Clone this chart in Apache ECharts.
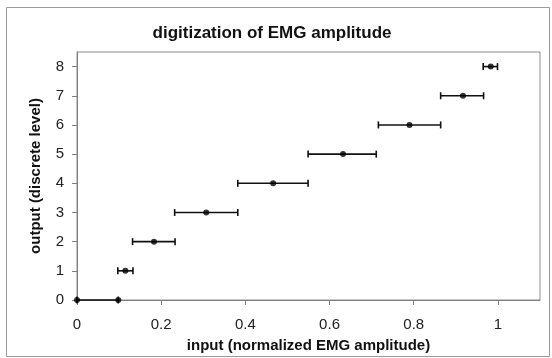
<!DOCTYPE html>
<html>
<head>
<meta charset="utf-8">
<script src="https://cdn.jsdelivr.net/npm/echarts@6/dist/echarts.min.js"></script>
<style>
  html, body { margin: 0; padding: 0; background: #fff; }
  #chart { width: 552px; height: 358px; }
</style>
</head>
<body>
<div id="chart"></div>
<script>
// discrete output level for each point
const levels = [0, 0, 1, 2, 3, 4, 5, 6, 7, 8];
// input (normalized EMG amplitude) at each point
const centers = [0, 0.098, 0.115, 0.183, 0.307, 0.466, 0.632, 0.790, 0.917, 0.983];
// horizontal error bar ends, one per level
const barLevels = [0, 1, 2, 3, 4, 5, 6, 7, 8];
const barLow = [0, 0.097, 0.132, 0.232, 0.382, 0.549, 0.716, 0.864, 0.965];
const barHigh = [0.098, 0.133, 0.233, 0.382, 0.549, 0.711, 0.864, 0.966, 0.999];
const xTicks = [0, 0.2, 0.4, 0.6, 0.8, 1];

const font = 'Liberation Sans, Arial, sans-serif';
const chart = echarts.init(document.getElementById('chart'));

const points = levels.map((l, i) => [centers[i], l]);
const bars = barLevels.map((l, i) => [barLow[i], barHigh[i], l]);

chart.setOption({
    animation: false,
    textStyle: { fontFamily: font },
    title: {
        text: 'digitization of EMG amplitude',
        left: 267,
        top: 20,
        textAlign: 'center',
        textStyle: { fontSize: 17, fontWeight: 'bold', color: '#111', fontFamily: font }
    },
    graphic: [{
        type: 'rect',
        shape: { x: 6.5, y: 7.5, width: 543, height: 349 },
        style: { fill: 'none', stroke: '#9a9a9a', lineWidth: 1 },
        silent: true
    }],
    grid: {
        left: 77, top: 52, right: 12, bottom: 56,
        show: true, borderColor: '#8c8c8c', borderWidth: 1
    },
    xAxis: {
        type: 'value', min: 0, max: 1.1, interval: 0.2,
        name: 'input (normalized EMG amplitude)',
        nameLocation: 'middle', nameGap: 38,
        nameTextStyle: { fontSize: 15, fontWeight: 'bold', color: '#111', fontFamily: font },
        axisLine: { show: true, lineStyle: { color: '#808080' } },
        axisTick: { show: true, length: 5, lineStyle: { color: '#808080' } },
        axisLabel: {
            margin: 17, fontSize: 15, color: '#222', showMaxLabel: false,
            formatter: v => xTicks.includes(Math.round(v * 10) / 10) ? String(Math.round(v * 10) / 10) : ''
        },
        splitLine: { show: false }
    },
    yAxis: {
        type: 'value', min: 0, max: 8.5, interval: 1,
        name: 'output (discrete level)',
        nameLocation: 'middle', nameGap: 34, nameRotate: 90,
        nameTextStyle: { fontSize: 15, fontWeight: 'bold', color: '#111', fontFamily: font },
        axisLine: { show: true, lineStyle: { color: '#808080' } },
        axisTick: { show: true, length: 5, lineStyle: { color: '#808080' } },
        axisLabel: {
            margin: 13, fontSize: 15, color: '#222', showMaxLabel: false,
            formatter: v => Number.isInteger(v) ? String(v) : ''
        },
        splitLine: { show: false }
    },
    series: [{
        type: 'custom',
        data: bars,
        z: 2,
        renderItem: (params, api) => {
            const a = api.coord([api.value(0), api.value(2)]);
            const b = api.coord([api.value(1), api.value(2)]);
            const cap = 3.5;
            const style = { stroke: '#111', lineWidth: 1.6, fill: 'none' };
            return {
                type: 'group',
                children: [
                    { type: 'line', shape: { x1: a[0], y1: a[1], x2: b[0], y2: b[1] }, style },
                    { type: 'line', shape: { x1: a[0], y1: a[1] - cap, x2: a[0], y2: a[1] + cap }, style },
                    { type: 'line', shape: { x1: b[0], y1: b[1] - cap, x2: b[0], y2: b[1] + cap }, style }
                ]
            };
        }
    }, {
        type: 'scatter',
        data: points,
        symbol: 'circle',
        symbolSize: 6,
        z: 3,
        itemStyle: { color: '#000' }
    }]
});
</script>
</body>
</html>
